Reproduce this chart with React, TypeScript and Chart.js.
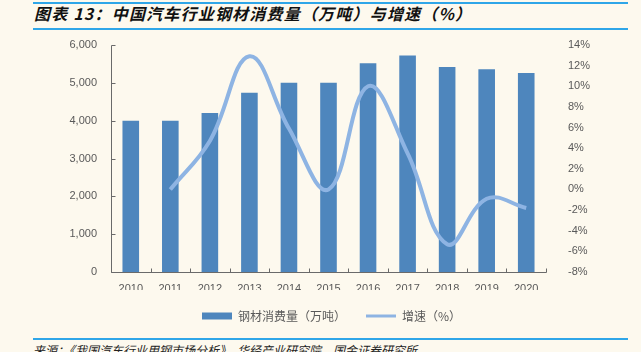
import React, { useEffect, useRef } from "react";
import { Chart, registerables } from "chart.js";

Chart.register(...registerables);

const years = ["2010", "2011", "2012", "2013", "2014", "2015", "2016", "2017", "2018", "2019", "2020"];
const steelConsumption = [4000, 4000, 4200, 4740, 5000, 5000, 5520, 5720, 5420, 5360, 5260];
const growthRate = [null, 0, 4.7, 12.9, 5.9, 0, 10.0, 3.5, -5.3, -0.9, -1.8];
const seriesNames = ["钢材消费量（万吨）", "增速（%）"];
const leftAxisRange = [0, 6000, 1000];
const rightAxisRange = [-8, 14, 2];
const titleText = "图表 13：中国汽车行业钢材消费量（万吨）与增速（%）";
const sourceText = "来源：《我国汽车行业用钢市场分析》，华经产业研究院，国金证券研究所";

const BG = "#FDF9EE";
const BAR = "#4E86BD";
const LINE = "#8EB4E3";
const AXIS = "#6a6a6a";
const TEXT = "#595959";
const RULE = "#2FA6E8";

const axisPlugin = {
  id: "excelAxes",
  afterDatasetsDraw(chart: any) {
    const { ctx, chartArea: a, scales } = chart;
    const xs = scales.x;
    const ys = scales.y;
    ctx.save();
    ctx.strokeStyle = AXIS;
    ctx.lineWidth = 1;
    ctx.beginPath();
    const L = Math.round(a.left) + 0.5;
    const B = Math.round(a.bottom) + 0.5;
    ctx.moveTo(L, Math.round(a.top) + 0.5);
    ctx.lineTo(L, B);
    ctx.lineTo(Math.round(a.right) + 0.5, B);
    ys.ticks.forEach((t: any) => {
      const py = Math.round(ys.getPixelForValue(t.value)) + 0.5;
      ctx.moveTo(L, py);
      ctx.lineTo(L + 4, py);
    });
    for (let i = 0; i <= years.length; i++) {
      const px = Math.round(xs.getPixelForValue(i - 0.5)) + 0.5;
      ctx.moveTo(px, B);
      ctx.lineTo(px, B - 4);
    }
    ctx.stroke();
    ctx.restore();
  },
};

function ChartView() {
  const ref = useRef<HTMLCanvasElement | null>(null);
  useEffect(() => {
    if (!ref.current) return;
    const tickFont = { family: "'Liberation Sans', 'Noto Sans CJK SC', sans-serif", size: 11 };
    const chart = new Chart(ref.current, {
      type: "bar",
      data: {
        labels: years,
        datasets: [
          {
            type: "line",
            label: seriesNames[1],
            data: growthRate,
            yAxisID: "y1",
            borderColor: LINE,
            backgroundColor: LINE,
            borderWidth: 4,
            pointRadius: 0,
            tension: 0.4,
            spanGaps: false,
            order: 0,
          } as any,
          {
            type: "bar",
            label: seriesNames[0],
            data: steelConsumption,
            yAxisID: "y",
            backgroundColor: BAR,
            borderWidth: 0,
            barPercentage: 0.42,
            categoryPercentage: 1,
            order: 1,
          } as any,
        ],
      },
      options: {
        responsive: false,
        animation: false,
        devicePixelRatio: 1,
        layout: { padding: { top: 10, left: 0, right: 0, bottom: 0 } },
        scales: {
          x: {
            offset: true,
            grid: { display: false, drawTicks: false },
            border: { display: false },
            ticks: { color: TEXT, font: tickFont, padding: 10, maxRotation: 0 },
            afterFit: (s: any) => { s.height = 18; },
          },
          y: {
            position: "left",
            min: leftAxisRange[0],
            max: leftAxisRange[1],
            grid: { display: false, drawTicks: true, tickLength: 12 },
            border: { display: false },
            ticks: {
              stepSize: leftAxisRange[2],
              color: TEXT,
              font: tickFont,
              padding: 2,
              callback: (v: any) => Number(v).toLocaleString("en-US"),
            },
            afterFit: (s: any) => { s.width = 100; },
          },
          y1: {
            position: "right",
            min: rightAxisRange[0],
            max: rightAxisRange[1],
            grid: { display: false, drawTicks: true, tickLength: 20 },
            border: { display: false },
            ticks: {
              stepSize: rightAxisRange[2],
              color: TEXT,
              font: tickFont,
              padding: 2,
              callback: (v: any) => `${v}%`,
            },
            afterFit: (s: any) => { s.width = 106; },
          },
        },
        plugins: {
          tooltip: { enabled: false },
          legend: {
            position: "bottom",
            labels: {
              usePointStyle: true,
              pointStyleWidth: 30,
              boxHeight: 7,
              padding: 20,
              color: TEXT,
              font: { family: "'Noto Sans CJK SC', sans-serif", size: 12 },
              generateLabels: () => [
                {
                  text: seriesNames[0],
                  fillStyle: BAR,
                  strokeStyle: BAR,
                  lineWidth: 0,
                  pointStyle: "rect",
                  fontColor: TEXT,
                  datasetIndex: 1,
                  hidden: false,
                } as any,
                {
                  text: seriesNames[1],
                  fillStyle: LINE,
                  strokeStyle: LINE,
                  lineWidth: 3,
                  pointStyle: "line",
                  fontColor: TEXT,
                  datasetIndex: 0,
                  hidden: false,
                } as any,
              ],
            },
          },
        },
      } as any,
      plugins: [axisPlugin],
    });
    return () => chart.destroy();
  }, []);
  return (
    <canvas
      ref={ref}
      width={641}
      height={297}
      style={{ position: "absolute", left: 11, top: 35, width: 641, height: 297 }}
    />
  );
}

export default function App() {
  return (
    <div
      style={{
        position: "fixed",
        left: 0,
        top: 0,
        width: 641,
        height: 352,
        overflow: "hidden",
        background: BG,
      }}
    >
      <div
        style={{
          position: "absolute",
          left: 33,
          top: 2,
          width: 595,
          height: 24,
          borderTop: `2px solid ${RULE}`,
          borderBottom: `2px solid ${RULE}`,
        }}
      />
      <div
        style={{
          position: "absolute",
          left: 34,
          top: 3,
          fontFamily: "'Noto Sans CJK SC', sans-serif",
          fontStyle: "italic",
          fontWeight: "bold",
          fontSize: 16,
          letterSpacing: "1.2px",
          lineHeight: "20px",
          color: "#111",
          whiteSpace: "nowrap",
        }}
      >
        {titleText}
      </div>
      <ChartView />
      <div
        style={{
          position: "absolute",
          left: 33,
          top: 338,
          width: 595,
          borderTop: `2px solid ${RULE}`,
        }}
      />
      <div
        style={{
          position: "absolute",
          left: 33,
          top: 343,
          fontFamily: "'Noto Sans CJK SC', sans-serif",
          fontStyle: "italic",
          fontSize: 12,
          lineHeight: "14px",
          color: "#222",
          whiteSpace: "nowrap",
        }}
      >
        {sourceText}
      </div>
    </div>
  );
}
